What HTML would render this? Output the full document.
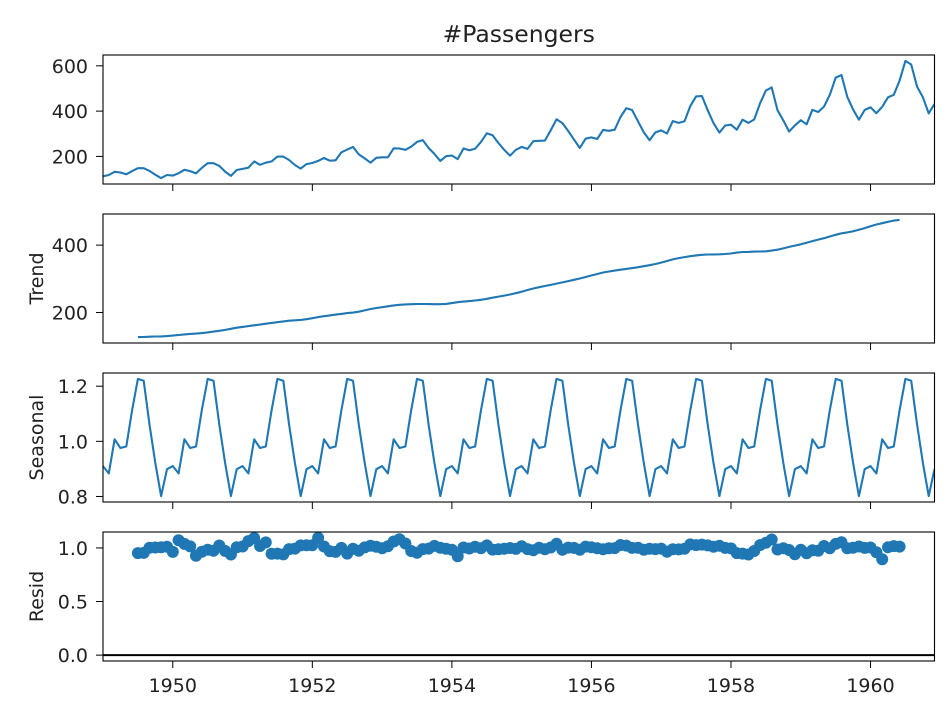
<!DOCTYPE html>
<html><head><meta charset="utf-8"><style>
body{margin:0;background:#fff;}
svg{display:block;font-family:"DejaVu Sans","Liberation Sans",sans-serif;}
</style></head><body>
<svg id="s" width="949" height="712" xmlns="http://www.w3.org/2000/svg"></svg>
<script>
const d=[112,118,132,129,121,135,148,148,136,119,104,118,115,126,141,135,125,149,170,170,158,133,114,140,145,150,178,163,172,178,199,199,184,162,146,166,171,180,193,181,183,218,230,242,209,191,172,194,196,196,236,235,229,243,264,272,237,211,180,201,204,188,235,227,234,264,302,293,259,229,203,229,242,233,267,269,270,315,364,347,312,274,237,278,284,277,317,313,318,374,413,405,355,306,271,306,315,301,356,348,355,422,465,467,404,347,305,336,340,318,362,348,363,435,491,505,404,359,310,337,360,342,406,396,420,472,548,559,463,407,362,405,417,391,419,461,472,535,622,606,508,461,390,432];
const n=d.length;
const tr=new Array(n).fill(null);
for(let i=6;i<n-6;i++){let s=0.5*d[i-6]+0.5*d[i+6];for(let k=-5;k<=5;k++)s+=d[i+k];tr[i]=s/12;}
const pa=[];for(let p=0;p<12;p++){let s=0,c=0;for(let i=p;i<n;i+=12)if(tr[i]){s+=d[i]/tr[i];c++;}pa.push(s/c);}
const pm=pa.reduce((a,b)=>a+b)/12;
const se=d.map((_,i)=>pa[i%12]/pm);
const re=d.map((v,i)=>tr[i]?v/(tr[i]*se[i]):null);
const L=103,R=934.5,W=R-L;
const X=i=>L+i*W/(n-1);
let h='';
const panels=[
 {top:55,data:d,ticks:[200,400,600],fmt:v=>v,label:null,title:'#Passengers'},
 {top:214,data:tr,ticks:[200,400],fmt:v=>v,label:'Trend'},
 {top:373,data:se,ticks:[0.8,1.0,1.2],fmt:v=>v.toFixed(1),label:'Seasonal'},
 {top:532,data:re,ticks:[0.0,0.5,1.0],fmt:v=>v.toFixed(1),label:'Resid',dots:true,zero:true}
];
panels.forEach((p,pi)=>{
 const H=129,B=p.top+H;
 let vals=p.data.filter(v=>v!=null);
 let mn=Math.min(...vals),mx=Math.max(...vals);
 if(p.zero)mn=Math.min(mn,0);
 const m=(mx-mn)*0.05;const lo=mn-m,hi=mx+m;
 const Y=v=>B-(v-lo)/(hi-lo)*H;
 h+=`<defs><clipPath id="c${pi}"><rect x="${L}" y="${p.top}" width="${W}" height="${H}"/></clipPath></defs>`;
 if(p.dots){
  p.data.forEach((v,i)=>{if(v!=null)h+=`<circle cx="${X(i).toFixed(1)}" cy="${Y(v).toFixed(1)}" r="6" fill="#1f77b4"/>`;});
  h+=`<line x1="${L}" x2="${R}" y1="${Y(0)}" y2="${Y(0)}" stroke="#000" stroke-width="2"/>`;
 }else{
  let pts=[];p.data.forEach((v,i)=>{if(v!=null)pts.push(X(i).toFixed(1)+','+Y(v).toFixed(1));});
  h+=`<polyline clip-path="url(#c${pi})" points="${pts.join(' ')}" fill="none" stroke="#1f77b4" stroke-width="2.1" stroke-linejoin="round"/>`;
 }
 h+=`<rect x="${L}" y="${p.top}" width="${W}" height="${H}" fill="none" stroke="#000" stroke-width="1.1"/>`;
 p.ticks.forEach(t=>{const y=Y(t);h+=`<line x1="${L-7}" x2="${L}" y1="${y}" y2="${y}" stroke="#000" stroke-width="1"/><text x="${L-15}" y="${y+7}" font-size="19" text-anchor="end" fill="#222">${p.fmt(t)}</text>`;});
 for(let yr=1950;yr<=1960;yr+=2){const x=L+(yr-1949)*12*W/(n-1);h+=`<line x1="${x}" x2="${x}" y1="${B}" y2="${B+7}" stroke="#000" stroke-width="1"/>`;
  if(pi==3)h+=`<text x="${x}" y="${B+31}" font-size="19" text-anchor="middle" fill="#222">${yr}</text>`;}
 if(p.label)h+=`<text transform="translate(43,${p.top+H/2}) rotate(-90)" font-size="19" text-anchor="middle" fill="#222">${p.label}</text>`;
 if(p.title)h+=`<text x="${(L+R)/2}" y="42" font-size="23.5" text-anchor="middle" fill="#222">${p.title}</text>`;
});
document.getElementById('s').innerHTML=h;
</script>
</body></html>
